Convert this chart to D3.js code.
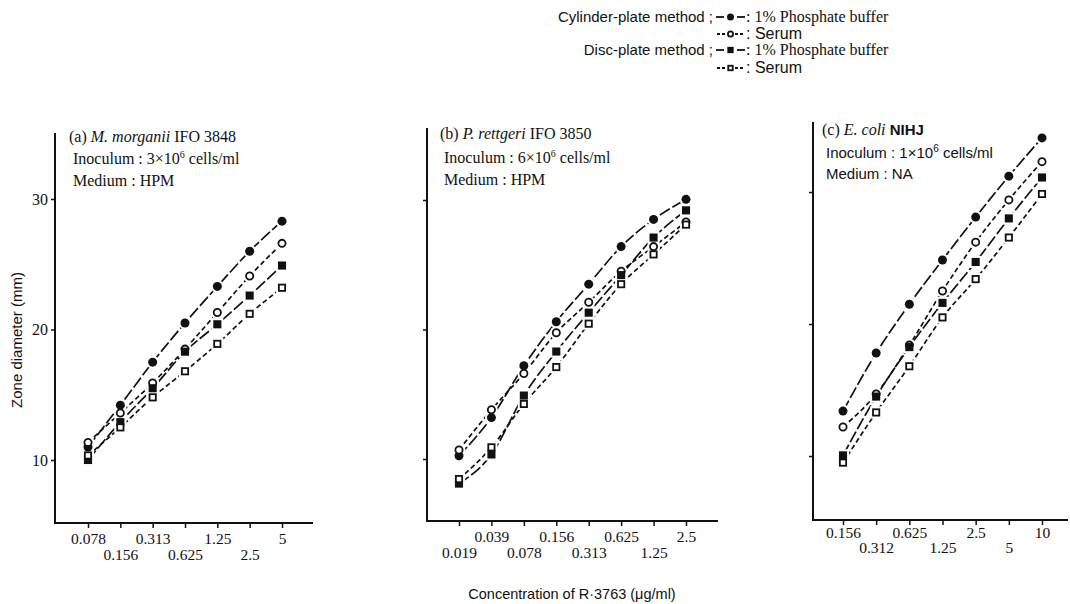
<!DOCTYPE html>
<html>
<head>
<meta charset="utf-8">
<script src="https://cdn.jsdelivr.net/npm/d3@7"></script>
<style>
  body { margin: 0; background: #fff; }
  svg text { fill: #111; }
  .serif { font-family: "Liberation Serif", "Times New Roman", serif; }
  .sans { font-family: "Liberation Sans", Arial, sans-serif; }
</style>
</head>
<body>
<svg id="chart" width="1070" height="604"></svg>
<script>
// concentrations (ug/ml) on each panel's x axis
const concA = ["0.078", "0.156", "0.313", "0.625", "1.25", "2.5", "5"];
const concB = ["0.019", "0.039", "0.078", "0.156", "0.313", "0.625", "1.25", "2.5"];
const concC = ["0.156", "0.312", "0.625", "1.25", "2.5", "5", "10"];

// zone diameters (mm)
const cylPhosA = [11.0, 14.2, 17.5, 20.5, 23.3, 26.0, 28.3];
const cylSerA = [11.35, 13.6, 15.9, 18.5, 21.3, 24.1, 26.6];
const discPhosA = [10.0, 12.9, 15.5, 18.3, 20.4, 22.6, 24.9];
const discSerA = [10.35, 12.5, 14.8, 16.8, 18.9, 21.2, 23.2];

const cylPhosB = [10.25, 13.2, 17.2, 20.6, 23.5, 26.4, 28.5, 30.05];
const cylSerB = [10.7, 13.8, 16.6, 19.75, 22.1, 24.5, 26.4, 28.3];
const discPhosB = [8.1, 10.35, 14.9, 18.3, 21.3, 24.2, 27.1, 29.2];
const discSerB = [8.45, 10.9, 14.25, 17.1, 20.45, 23.5, 25.8, 28.1];

const cylPhosC = [13.4, 17.8, 21.5, 24.85, 28.1, 31.2, 34.1];
const cylSerC = [12.2, 14.7, 18.4, 22.5, 26.2, 29.4, 32.3];
const discPhosC = [10.05, 14.5, 18.25, 21.6, 24.7, 28.0, 31.1];
const discSerC = [9.5, 13.3, 16.8, 20.5, 23.4, 26.55, 29.85];

const yTicks = [10, 20, 30];

const letters = ["(a)", "(b)", "(c)"];
const organisms = ["M. morganii", "P. rettgeri", "E. coli"];
const strains = ["IFO 3848", "IFO 3850", "NIHJ"];
const inocula = ["3", "6", "1"];
const media = ["HPM", "HPM", "NA"];

const methods = ["Cylinder-plate method ;", "Disc-plate method ;"];
const solutions = ["1% Phosphate buffer", "Serum"];

const yTitle = "Zone diameter (mm)";
const xTitle = "Concentration of R\u00b73763 (\u03bcg/ml)";

// one entry per series, in the order cylinder/phosphate, cylinder/serum, disc/phosphate, disc/serum
const styles = [
  { shape: "circle", filled: true, dash: "12,3" },
  { shape: "circle", filled: false, dash: "5,3" },
  { shape: "square", filled: true, dash: "12,3" },
  { shape: "square", filled: false, dash: "5,3" },
];

// page layout for the three panels
const panels = [
  {
    conc: concA, series: [cylPhosA, cylSerA, discPhosA, discSerA],
    axisX: 55, top: 133, bottom: 523, right: 313,
    y10: 460, y30: 199, tick0: 88, tickN: 282,
    lowFirst: false, labelY: [10, 26], yLabels: true,
    textX: 69, textY: [142, 164, 186], bodyFont: "serif",
  },
  {
    conc: concB, series: [cylPhosB, cylSerB, discPhosB, discSerB],
    axisX: 427, top: 128, bottom: 521, right: 718,
    y10: 459, y30: 200, tick0: 459, tickN: 686,
    lowFirst: true, labelY: [10, 26], yLabels: false,
    textX: 440, textY: [139, 163, 185], bodyFont: "serif",
  },
  {
    conc: concC, series: [cylPhosC, cylSerC, discPhosC, discSerC],
    axisX: 813, top: 122, bottom: 520, right: 1068,
    y10: 456, y30: 192, tick0: 843, tickN: 1042,
    lowFirst: false, labelY: [7, 22], yLabels: false,
    textX: 822, textY: [135, 158, 179], bodyFont: "sans",
  },
];

const svg = d3.select("#chart");

function drawMarker(g, style, cx, cy, size, halo) {
  const s = style.shape === "circle" ? size : size * 0.9;
  if (halo) {
    g.append(style.shape === "circle" ? "circle" : "rect")
      .call((el) => style.shape === "circle"
        ? el.attr("cx", cx).attr("cy", cy).attr("r", s / 2 + 2)
        : el.attr("x", cx - s / 2 - 2).attr("y", cy - s / 2 - 2).attr("width", s + 4).attr("height", s + 4))
      .attr("fill", "#fff");
    return;
  }
  const sw = style.filled ? 0 : 1.8;
  const r = style.filled ? s / 2 : s / 2 - 0.9;
  const el = style.shape === "circle"
    ? g.append("circle").attr("cx", cx).attr("cy", cy).attr("r", r)
    : g.append("rect").attr("x", cx - r).attr("y", cy - r).attr("width", 2 * r).attr("height", 2 * r);
  el.attr("fill", style.filled ? "#111" : "#fff")
    .attr("stroke", "#111")
    .attr("stroke-width", sw);
}

panels.forEach((p, pi) => {
  const g = svg.append("g");

  const x = d3.scalePoint().domain(p.conc).range([p.tick0, p.tickN]);
  const y = d3.scaleLinear().domain([10, 30]).range([p.y10, p.y30]);

  // axes
  const xAxis = g.append("g")
    .attr("class", "serif")
    .attr("transform", `translate(0,${p.bottom})`)
    .call(d3.axisBottom(x).tickSize(5).tickSizeOuter(0));
  xAxis.select(".domain").remove();
  xAxis.selectAll(".tick line").attr("stroke", "#111").attr("stroke-width", 1.5);
  xAxis.selectAll(".tick text")
    .attr("font-size", 15.5)
    .attr("font-family", null)
    .attr("fill", "#111")
    .attr("y", (d, i) => p.labelY[(i + (p.lowFirst ? 1 : 0)) % 2]);

  const yAxis = g.append("g")
    .attr("class", "serif")
    .attr("transform", `translate(${p.axisX},0)`)
    .call(
      d3.axisLeft(y)
        .tickValues(yTicks)
        .tickSize(4)
        .tickPadding(3)
        .tickFormat(p.yLabels ? d3.format("d") : () => "")
    );
  yAxis.select(".domain").remove();
  yAxis.selectAll(".tick line").attr("stroke", "#111").attr("stroke-width", 1.5);
  yAxis.selectAll(".tick text")
    .attr("font-size", 16)
    .attr("font-family", null)
    .attr("fill", "#111");

  g.append("path")
    .attr("d", `M${p.axisX},${p.top}V${p.bottom}H${p.right}`)
    .attr("fill", "none")
    .attr("stroke", "#111")
    .attr("stroke-width", 2);

  // lines
  const line = d3.line()
    .x((d) => x(d[0]))
    .y((d) => y(d[1]))
    .curve(d3.curveMonotoneX);

  p.series.forEach((vals, si) => {
    g.append("path")
      .datum(d3.zip(p.conc, vals))
      .attr("d", line)
      .attr("fill", "none")
      .attr("stroke", "#111")
      .attr("stroke-width", 1.7)
      .attr("stroke-dasharray", styles[si].dash);
  });

  // white gaps round the points, then the points
  [true, false].forEach((halo) => {
    p.series.forEach((vals, si) => {
      vals.forEach((v, i) => drawMarker(g, styles[si], x(p.conc[i]), y(v), 9, halo));
    });
  });

  // panel captions
  const big = p.bodyFont === "sans" ? 15 : 16;
  const t1 = g.append("text").attr("class", "serif")
    .attr("x", p.textX).attr("y", p.textY[0]).attr("font-size", 16);
  t1.append("tspan").text(letters[pi] + " ");
  t1.append("tspan").attr("font-style", "italic").text(organisms[pi]);
  t1.append("tspan")
    .attr("class", p.bodyFont)
    .attr("font-weight", p.bodyFont === "sans" ? "bold" : null)
    .attr("font-size", big)
    .text(" " + strains[pi]);

  const t2 = g.append("text").attr("class", p.bodyFont)
    .attr("x", p.textX + 4).attr("y", p.textY[1])
    .attr("font-size", big);
  t2.append("tspan").text(`Inoculum : ${inocula[pi]}\u00d710`);
  t2.append("tspan").attr("font-size", 10).attr("dy", -6).text("6");
  t2.append("tspan").attr("dy", 6).text(" cells/ml");

  g.append("text").attr("class", p.bodyFont)
    .attr("x", p.textX + 4).attr("y", p.textY[2])
    .attr("font-size", big)
    .text(`Medium : ${media[pi]}`);
});

// axis titles
svg.append("text")
  .attr("class", "sans")
  .attr("transform", "translate(22,340) rotate(-90)")
  .attr("text-anchor", "middle")
  .attr("font-size", 15)
  .text(yTitle);

svg.append("text")
  .attr("class", "sans")
  .attr("x", 572).attr("y", 599)
  .attr("text-anchor", "middle")
  .attr("font-size", 14.5)
  .text(xTitle);

// legend
const legendRows = [17, 34, 50, 68];
const legend = svg.append("g");
legendRows.forEach((cy, si) => {
  const st = styles[si];
  if (si % 2 === 0) {
    legend.append("text").attr("class", "sans")
      .attr("x", 713).attr("y", cy + 5)
      .attr("text-anchor", "end").attr("font-size", 15)
      .text(methods[si / 2]);
  }
  const segs = st.filled ? [[716, 724], [737, 745]] : [[717, 726], [735, 744]];
  segs.forEach(([a, b]) => {
    legend.append("line")
      .attr("x1", a).attr("x2", b).attr("y1", cy).attr("y2", cy)
      .attr("stroke", "#111").attr("stroke-width", 1.8)
      .attr("stroke-dasharray", st.filled ? null : "3,2");
  });
  drawMarker(legend, st, 730.5, cy, 7, false);
  legend.append("text")
    .attr("class", si % 2 === 0 ? "serif" : "sans")
    .attr("x", 746).attr("y", cy + 5)
    .attr("font-size", 16)
    .text(": " + solutions[si % 2]);
});
</script>
</body>
</html>
